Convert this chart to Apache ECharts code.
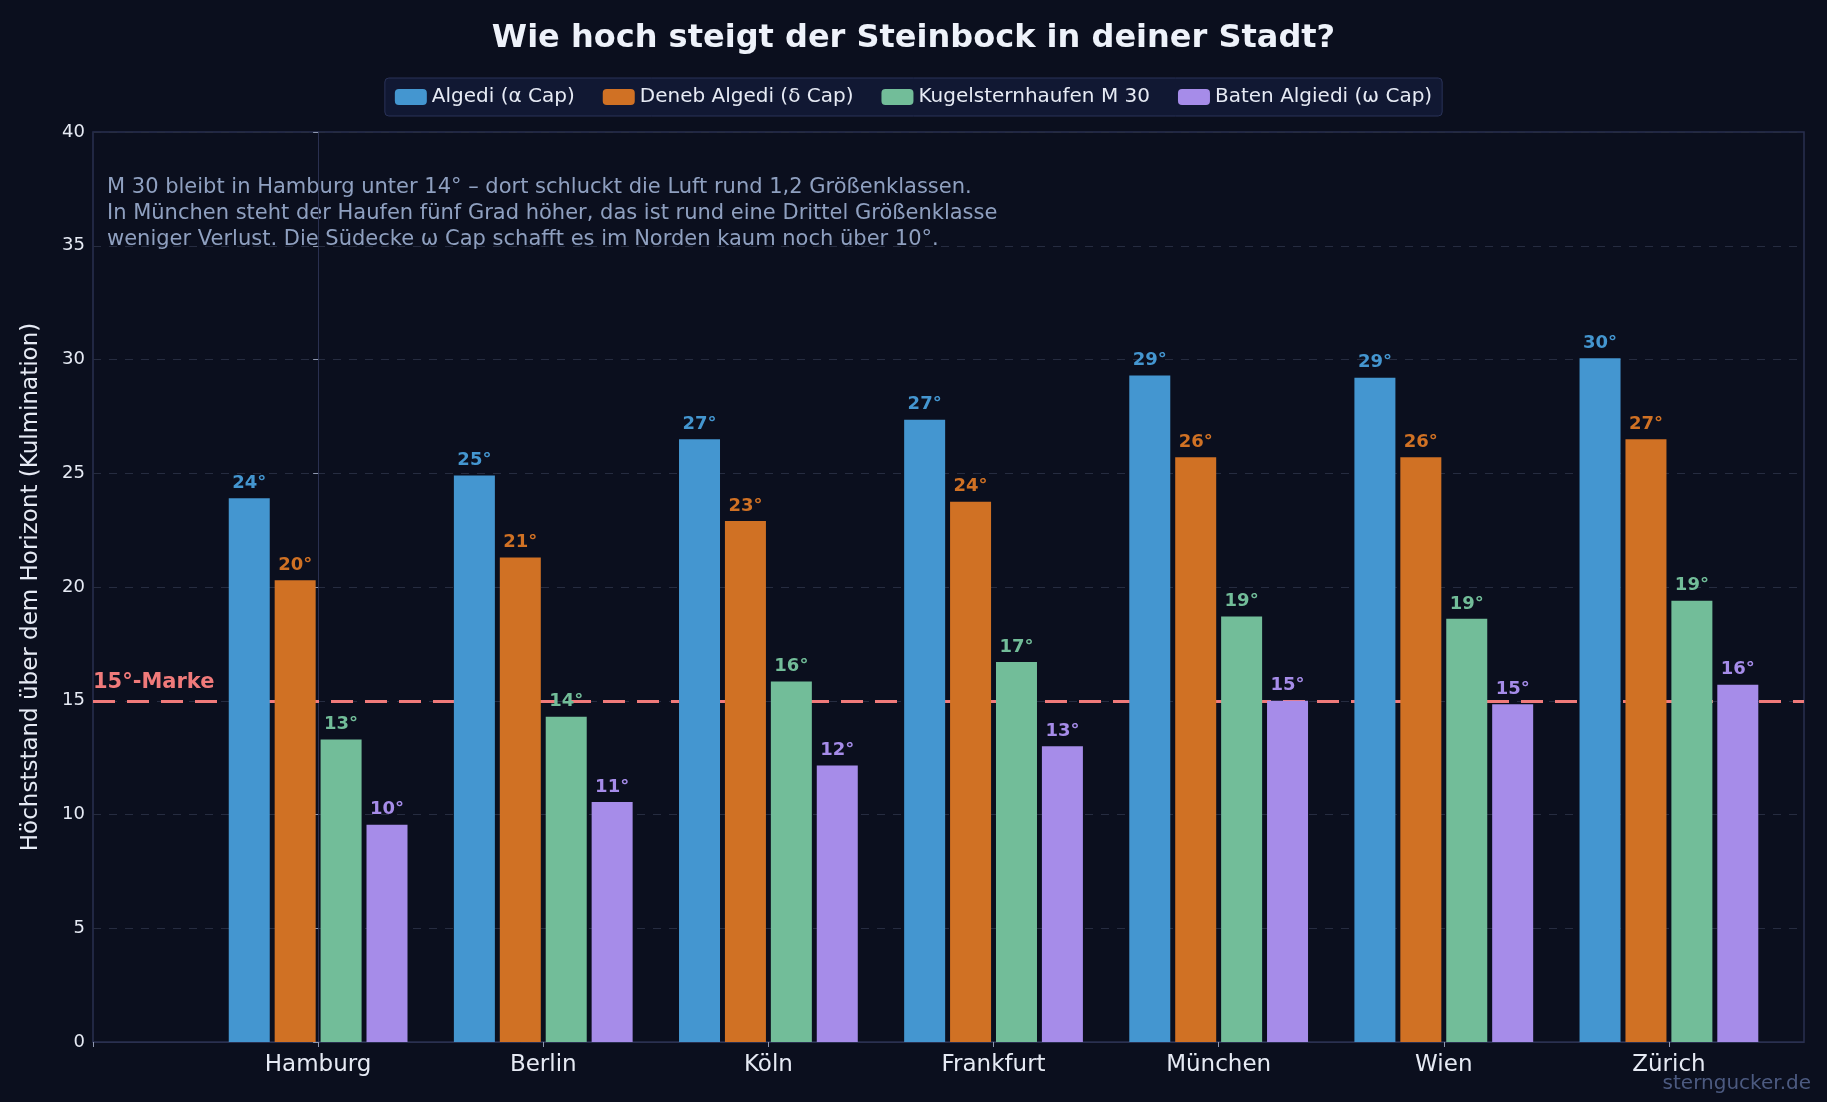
<!DOCTYPE html>
<html><head><meta charset="utf-8">
<script src="https://cdn.jsdelivr.net/npm/echarts@6/dist/echarts.min.js"></script>
<style>html,body{margin:0;background:#0b0f1e}#main{width:1827px;height:1102px}</style>
</head><body><div id="main"></div>
<script>
const cities = ["Hamburg", "Berlin", "Köln", "Frankfurt", "München", "Wien", "Zürich"];
const seriesNames = ["Algedi (α Cap)", "Deneb Algedi (δ Cap)", "Kugelsternhaufen M 30", "Baten Algiedi (ω Cap)"];
const colors = ["#4496d0", "#d07124", "#72bd99", "#a68ce9"];
const algedi = [23.9, 24.9, 26.5, 27.35, 29.3, 29.2, 30.05];
const deneb = [20.3, 21.3, 22.9, 23.75, 25.7, 25.7, 26.5];
const m30 = [13.3, 14.3, 15.85, 16.7, 18.7, 18.6, 19.4];
const baten = [9.55, 10.55, 12.15, 13.0, 15.0, 14.85, 15.7];
const values = [algedi, deneb, m30, baten];
const markValue = 15;
const note = "M 30 bleibt in Hamburg unter 14° – dort schluckt die Luft rund 1,2 Größenklassen.\nIn München steht der Haufen fünf Grad höher, das ist rund eine Drittel Größenklasse\nweniger Verlust. Die Südecke ω Cap schafft es im Norden kaum noch über 10°.";

const font = "DejaVu Sans";
const series = values.map((vals, s) => ({
  name: seriesNames[s],
  type: "bar",
  barWidth: 41,
  barGap: "12%",
  data: vals.map((v, i) => [i, v]),
  itemStyle: { color: colors[s] },
  label: {
    show: true, position: "top", distance: 6,
    formatter: p => Math.round(p.value[1]) + "°",
    color: colors[s], fontWeight: "bold", fontSize: 18, fontFamily: font
  },
  z: 3
}));
series[0].markLine = {
  symbol: "none", silent: true,
  lineStyle: { color: "#f07a7a", type: [22, 12], width: 3 },
  label: {
    position: "insideStartTop", formatter: "15°-Marke",
    color: "#f07a7a", fontWeight: "bold", fontSize: 21, fontFamily: font, distance: [0, 8]
  },
  data: [{ yAxis: markValue }],
  z: 2
};

const chart = echarts.init(document.getElementById("main"));
chart.setOption({
  backgroundColor: "#0b0f1e",
  textStyle: { fontFamily: font },
  title: {
    text: "Wie hoch steigt der Steinbock in deiner Stadt?", left: "center", top: 18,
    textStyle: { color: "#eef2fa", fontSize: 32, fontWeight: "bold", fontFamily: font }
  },
  legend: {
    top: 78, left: "center", itemWidth: 32, itemHeight: 16, itemGap: 28,
    backgroundColor: "#111833", borderColor: "#2a3258", borderWidth: 1, borderRadius: 4,
    padding: [9, 10],
    textStyle: { color: "#e6eaf4", fontSize: 20, fontFamily: font },
    data: seriesNames
  },
  graphic: [
    { type: "text", left: 107, top: 175, style: { text: note, fill: "#8fa0c0", fontSize: 21, lineHeight: 26, fontFamily: font } },
    { type: "text", right: 16, bottom: 8, style: { text: "sterngucker.de", fill: "#4c5a80", fontSize: 20, fontFamily: font } }
  ],
  grid: { left: 93, right: 23, top: 132, bottom: 60, show: true, borderColor: "#2a3050", borderWidth: 1.5 },
  xAxis: {
    type: "value", min: -1, max: 6.6, interval: 1,
    splitLine: { show: false },
    axisLine: { show: true, lineStyle: { color: "#2a3050" } },
    axisTick: { show: true, lineStyle: { color: "#8f98b0" } },
    axisLabel: {
      color: "#e6eaf4", fontSize: 23, margin: 12,
      formatter: v => cities[v] || "", showMaxLabel: false
    }
  },
  yAxis: {
    type: "value", min: 0, max: 40, interval: 5,
    name: "Höchststand über dem Horizont (Kulmination)", nameLocation: "middle", nameGap: 50,
    nameTextStyle: { color: "#e6eaf4", fontSize: 23 },
    axisLine: { show: true, lineStyle: { color: "#2a3050" } },
    axisTick: { show: true, lineStyle: { color: "#8f98b0" } },
    axisLabel: { color: "#e6eaf4", fontSize: 18 },
    splitLine: { lineStyle: { color: "#262c40", type: [8, 8] } }
  },
  series: series
});
</script></body></html>
